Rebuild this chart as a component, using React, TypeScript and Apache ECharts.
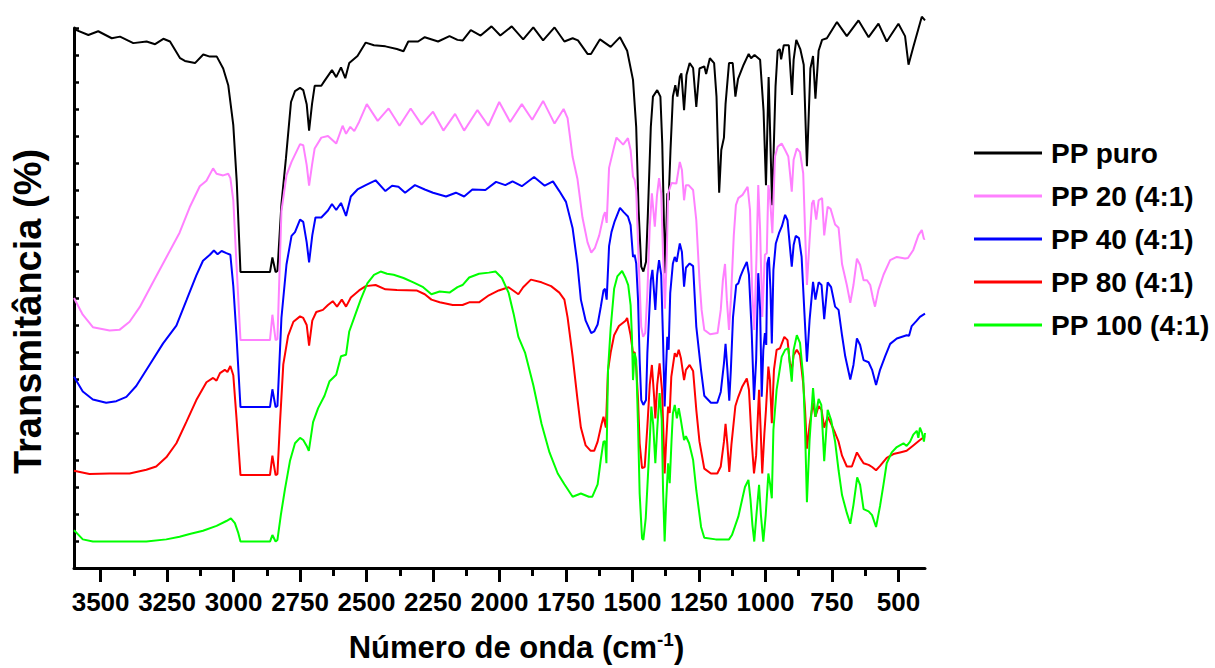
import React, { useEffect, useRef } from "react";
import * as echarts from "echarts";

const seriesNames = ["PP puro", "PP 20 (4:1)", "PP 40 (4:1)", "PP 80 (4:1)", "PP 100 (4:1)"];
const majorTicks = [3500, 3250, 3000, 2750, 2500, 2250, 2000, 1750, 1500, 1250, 1000, 750, 500];
const minorTicks = [3375, 3125, 2875, 2625, 2375, 2125, 1875, 1625, 1375, 1125, 875, 625];

// [wavenumber (cm-1), transmittance (arbitrary offset %)]
const ppPuro: [number, number][] = [
  [3600, 99.8], [3546, 98.7], [3509, 99.4], [3458, 98.1], [3427, 98.4], [3377, 97.2], [3327, 97.5], [3295, 97.0], [3264, 98.0], [3239, 97.5],
  [3201, 94.4], [3183, 93.9], [3145, 93.5], [3114, 95.1], [3089, 94.7], [3063, 94.7], [3039, 92.5], [3020, 89.4], [3001, 82.0], [2988, 71.5],
  [2974, 54.8], [2863, 54.8], [2854, 57.5], [2842, 54.8], [2835, 55.0], [2820, 67.4], [2803, 75.9], [2784, 86.3], [2769, 88.3], [2750, 88.9],
  [2738, 88.5], [2725, 85.9], [2716, 81.0], [2705, 85.9], [2695, 89.3], [2670, 89.3], [2658, 90.2], [2630, 92.2], [2614, 90.9], [2596, 92.7],
  [2580, 90.7], [2565, 93.5], [2534, 94.8], [2503, 97.3], [2472, 96.8], [2429, 96.6], [2386, 96.1], [2361, 95.7], [2343, 97.5], [2306, 97.5],
  [2281, 98.3], [2231, 97.5], [2188, 98.5], [2158, 97.8], [2138, 97.7], [2108, 99.6], [2071, 98.6], [2030, 100.3], [1997, 98.6], [1954, 100.3],
  [1911, 97.9], [1873, 100.1], [1836, 97.7], [1793, 100.1], [1756, 97.5], [1725, 98.1], [1705, 97.7], [1669, 95.2], [1656, 95.2], [1622, 97.9],
  [1582, 96.5], [1547, 98.3], [1520, 95.8], [1498, 90.4], [1486, 81.7], [1477, 66.3], [1467, 55.8], [1459, 54.9], [1449, 56.7], [1442, 65.7],
  [1431, 81.7], [1423, 87.3], [1407, 88.5], [1395, 87.3], [1388, 78.6], [1381, 62.6], [1377, 54.6], [1369, 69.4], [1364, 68.1], [1357, 77.4],
  [1348, 87.3], [1339, 89.4], [1331, 87.3], [1322, 91.0], [1316, 91.6], [1306, 84.8], [1297, 91.3], [1285, 93.5], [1272, 92.6], [1260, 85.4],
  [1248, 92.5], [1230, 92.9], [1223, 91.5], [1209, 94.4], [1193, 93.5], [1184, 87.3], [1174, 69.5], [1166, 77.4], [1156, 79.7], [1150, 85.9],
  [1137, 93.5], [1123, 93.5], [1113, 87.3], [1103, 90.6], [1082, 93.2], [1063, 95.2], [1054, 94.4], [1041, 95.0], [1020, 94.1], [1007, 84.6],
  [998, 70.9], [988, 90.9], [975, 67.2], [962, 89.2], [954, 95.8], [946, 96.1], [941, 94.2], [931, 96.8], [912, 96.8], [900, 87.6],
  [894, 94.1], [884, 97.8], [869, 96.1], [856, 93.2], [844, 74.4], [831, 92.5], [821, 94.8], [812, 86.9], [800, 95.8], [787, 97.8],
  [769, 98.1], [731, 101.1], [694, 98.5], [650, 101.4], [612, 98.3], [575, 100.8], [544, 97.5], [500, 100.8], [475, 98.5], [462, 93.2],
  [444, 96.5], [425, 99.8], [412, 102.1], [400, 101.4],
];

const pp20: [number, number][] = [
  [3600, 50.0], [3567, 46.9], [3529, 44.6], [3466, 44.0], [3429, 44.1], [3391, 45.6], [3353, 48.3], [3303, 52.9], [3253, 57.5], [3203, 62.1],
  [3165, 66.8], [3127, 70.7], [3102, 71.7], [3077, 74.0], [3064, 73.0], [3039, 72.7], [3020, 73.0], [3012, 72.2], [3001, 68.1], [2989, 56.2],
  [2974, 42.2], [2863, 42.2], [2854, 46.9], [2842, 42.2], [2835, 42.4], [2820, 66.1], [2801, 72.7], [2782, 75.2], [2750, 78.5], [2738, 78.3],
  [2725, 74.6], [2716, 70.8], [2705, 74.6], [2695, 77.7], [2670, 79.7], [2645, 80.0], [2614, 78.6], [2590, 81.9], [2577, 80.4], [2561, 81.7],
  [2546, 80.9], [2528, 82.6], [2499, 85.9], [2458, 82.8], [2417, 85.1], [2376, 81.9], [2334, 85.1], [2293, 82.1], [2250, 84.5], [2211, 81.0],
  [2167, 84.1], [2133, 81.0], [2083, 84.8], [2042, 81.9], [2001, 86.3], [1960, 82.6], [1916, 85.9], [1877, 83.0], [1836, 86.5], [1793, 82.3],
  [1759, 85.0], [1744, 83.3], [1725, 76.1], [1707, 72.1], [1688, 64.9], [1669, 60.3], [1655, 58.4], [1641, 59.3], [1625, 61.6], [1609, 65.2],
  [1603, 65.9], [1597, 63.9], [1588, 74.1], [1569, 78.0], [1560, 79.7], [1535, 78.4], [1517, 79.6], [1507, 77.4], [1498, 72.5], [1492, 71.9],
  [1486, 70.0], [1477, 57.0], [1467, 44.7], [1460, 42.8], [1452, 43.5], [1444, 50.9], [1435, 63.2], [1427, 69.4], [1416, 63.2], [1408, 68.9],
  [1400, 72.2], [1392, 69.4], [1385, 58.0], [1378, 48.0], [1371, 58.0], [1366, 69.4], [1353, 71.3], [1335, 71.2], [1322, 75.2], [1314, 73.7],
  [1306, 68.1], [1299, 70.9], [1289, 70.9], [1272, 70.0], [1260, 64.4], [1248, 53.3], [1240, 47.8], [1230, 44.1], [1208, 43.3], [1180, 43.5],
  [1168, 47.8], [1160, 53.3], [1152, 56.3], [1145, 49.6], [1137, 44.1], [1130, 49.6], [1119, 61.6], [1111, 67.2], [1102, 68.5], [1086, 69.1],
  [1067, 70.6], [1058, 66.3], [1050, 51.5], [1042, 44.1], [1034, 57.0], [1027, 70.9], [1020, 62.6], [1012, 46.5], [1002, 58.0], [995, 58.3],
  [989, 70.9], [983, 68.7], [974, 62.0], [964, 76.2], [954, 78.0], [939, 78.6], [926, 77.4], [914, 76.2], [907, 72.8], [901, 69.7],
  [894, 75.6], [882, 77.7], [870, 77.0], [858, 73.1], [851, 62.6], [844, 52.4], [834, 60.7], [825, 67.5], [819, 68.1], [809, 64.5],
  [800, 68.1], [787, 68.5], [779, 61.6], [766, 66.9], [755, 66.5], [738, 63.6], [725, 63.0], [712, 56.3], [694, 52.4], [681, 49.1],
  [669, 52.4], [656, 57.3], [644, 56.1], [631, 53.3], [618, 53.3], [606, 52.4], [596, 50.0], [588, 48.4], [575, 51.5], [556, 54.3],
  [531, 57.0], [506, 57.6], [475, 57.3], [464, 57.4], [444, 58.9], [425, 61.6], [412, 62.6], [404, 60.9], [400, 61.0],
];

const pp40: [number, number][] = [
  [3600, 35.4], [3567, 32.7], [3529, 31.2], [3479, 30.6], [3441, 30.9], [3403, 31.7], [3366, 33.7], [3315, 37.7], [3265, 41.6], [3215, 44.9],
  [3177, 49.6], [3140, 54.2], [3115, 56.9], [3089, 58.0], [3074, 58.8], [3060, 58.1], [3045, 58.7], [3027, 58.3], [3012, 58.0], [3001, 52.2],
  [2989, 43.0], [2974, 29.8], [2863, 29.8], [2854, 33.1], [2842, 29.8], [2835, 30.0], [2820, 46.3], [2801, 56.2], [2782, 61.5], [2769, 62.2],
  [2750, 64.5], [2738, 64.1], [2725, 60.3], [2716, 56.6], [2704, 61.6], [2692, 64.9], [2670, 64.9], [2645, 66.2], [2630, 67.4], [2614, 66.3],
  [2596, 67.6], [2577, 65.2], [2559, 68.8], [2534, 70.1], [2503, 70.9], [2466, 71.8], [2429, 69.8], [2404, 70.8], [2380, 70.6], [2355, 69.5],
  [2318, 70.9], [2281, 70.1], [2250, 69.5], [2201, 68.8], [2164, 69.5], [2133, 68.8], [2102, 70.1], [2053, 70.0], [2013, 71.5], [1978, 70.9],
  [1951, 71.6], [1916, 70.7], [1870, 72.4], [1830, 70.8], [1799, 71.6], [1775, 69.8], [1750, 67.8], [1725, 62.9], [1707, 56.3], [1694, 49.7],
  [1676, 45.8], [1655, 43.5], [1644, 43.8], [1631, 45.1], [1619, 48.4], [1609, 51.4], [1603, 51.7], [1597, 49.7], [1588, 59.6], [1579, 62.2],
  [1567, 64.2], [1547, 66.7], [1533, 65.9], [1517, 65.1], [1507, 63.5], [1498, 57.6], [1492, 58.0], [1486, 56.4], [1479, 49.6], [1473, 38.5],
  [1467, 31.1], [1459, 30.2], [1449, 31.1], [1444, 39.8], [1431, 53.3], [1425, 55.2], [1414, 47.8], [1407, 54.3], [1400, 57.0], [1392, 54.3],
  [1385, 42.2], [1379, 29.9], [1374, 36.7], [1369, 42.8], [1364, 40.4], [1358, 50.9], [1348, 56.4], [1341, 57.6], [1334, 56.7], [1322, 60.1],
  [1314, 58.5], [1306, 52.1], [1299, 55.6], [1285, 56.4], [1272, 55.9], [1260, 44.7], [1242, 36.6], [1230, 31.9], [1205, 30.6], [1181, 30.6],
  [1168, 32.6], [1156, 37.9], [1150, 41.5], [1143, 36.7], [1136, 31.0], [1130, 36.7], [1122, 46.4], [1110, 52.4], [1102, 52.7], [1094, 54.0],
  [1084, 55.2], [1070, 56.7], [1062, 54.3], [1052, 44.1], [1043, 31.1], [1035, 38.5], [1027, 54.6], [1020, 47.8], [1014, 31.7], [1008, 40.4],
  [1002, 43.5], [997, 41.3], [993, 56.4], [987, 57.6], [981, 51.5], [976, 41.6], [970, 55.2], [961, 60.1], [949, 62.0], [938, 63.3],
  [926, 65.4], [917, 64.4], [908, 59.5], [901, 55.8], [894, 59.8], [886, 61.5], [874, 61.1], [864, 57.6], [854, 47.8], [844, 38.2],
  [834, 45.9], [821, 53.0], [812, 49.7], [800, 52.9], [789, 52.4], [779, 46.1], [766, 52.9], [753, 52.0], [738, 48.4], [725, 47.8],
  [712, 43.1], [700, 39.2], [681, 34.9], [669, 37.6], [656, 42.5], [644, 41.3], [631, 38.5], [612, 38.1], [599, 36.7], [584, 33.9],
  [569, 36.7], [550, 39.2], [531, 41.5], [506, 42.5], [469, 43.1], [460, 43.0], [450, 44.8], [431, 45.8], [419, 46.5], [400, 47.1],
];

const pp80: [number, number][] = [
  [3600, 18.0], [3542, 17.4], [3466, 17.5], [3391, 17.5], [3328, 18.2], [3291, 18.8], [3253, 20.5], [3215, 23.1], [3177, 27.1], [3140, 31.1],
  [3102, 34.4], [3077, 35.2], [3064, 34.7], [3051, 36.1], [3033, 36.7], [3023, 36.3], [3012, 37.4], [3001, 35.7], [2989, 27.8], [2974, 17.2],
  [2863, 17.2], [2854, 20.8], [2842, 17.2], [2835, 17.4], [2826, 26.4], [2813, 37.7], [2795, 43.0], [2775, 45.6], [2750, 46.6], [2738, 46.3],
  [2725, 45.0], [2716, 41.2], [2704, 45.8], [2689, 47.4], [2664, 47.8], [2645, 48.7], [2627, 49.4], [2611, 48.4], [2593, 49.7], [2577, 48.4],
  [2559, 50.1], [2528, 51.4], [2503, 52.2], [2466, 52.4], [2429, 51.6], [2386, 51.5], [2312, 51.4], [2281, 50.7], [2256, 49.7], [2225, 49.2],
  [2176, 48.7], [2139, 48.7], [2114, 49.2], [2077, 49.2], [2040, 50.5], [2003, 51.4], [1966, 52.0], [1929, 50.7], [1911, 52.0], [1882, 53.4],
  [1842, 52.9], [1806, 52.2], [1775, 51.0], [1756, 49.7], [1744, 46.4], [1725, 39.2], [1707, 31.3], [1694, 26.0], [1676, 22.7], [1657, 21.7],
  [1644, 21.7], [1631, 23.4], [1616, 26.7], [1609, 28.0], [1600, 26.0], [1592, 36.6], [1582, 39.9], [1569, 43.1], [1551, 44.8], [1526, 45.8],
  [1520, 46.3], [1507, 43.1], [1498, 39.8], [1492, 40.0], [1486, 37.3], [1479, 31.1], [1473, 23.1], [1464, 18.5], [1454, 18.7], [1444, 26.2],
  [1435, 33.9], [1427, 37.6], [1419, 32.0], [1414, 27.7], [1407, 33.9], [1398, 37.9], [1389, 33.0], [1384, 25.6], [1379, 17.5], [1373, 23.7],
  [1366, 29.9], [1360, 28.7], [1354, 35.4], [1341, 39.8], [1334, 39.1], [1326, 40.4], [1318, 38.9], [1306, 34.8], [1299, 36.7], [1285, 37.6],
  [1272, 36.5], [1260, 29.3], [1248, 23.4], [1230, 18.4], [1205, 17.5], [1181, 17.5], [1168, 18.8], [1156, 23.4], [1150, 26.7], [1143, 22.8],
  [1136, 17.8], [1128, 22.8], [1113, 30.0], [1102, 31.7], [1088, 33.5], [1070, 35.1], [1062, 33.0], [1052, 23.7], [1043, 17.5], [1035, 20.9],
  [1024, 33.0], [1018, 25.6], [1012, 17.5], [1004, 24.9], [998, 29.3], [989, 37.3], [983, 34.8], [976, 26.8], [968, 36.7], [958, 40.4],
  [945, 40.7], [929, 42.8], [917, 42.2], [908, 37.9], [901, 36.7], [894, 39.4], [882, 40.4], [870, 39.4], [858, 34.2], [851, 29.3],
  [844, 22.1], [834, 26.5], [821, 30.6], [812, 28.0], [800, 30.0], [789, 29.3], [779, 26.0], [766, 28.0], [753, 26.7], [738, 25.0],
  [725, 23.4], [712, 20.8], [694, 18.8], [675, 18.8], [656, 21.4], [644, 20.4], [631, 19.4], [612, 19.1], [599, 18.7], [584, 18.1],
  [569, 18.9], [544, 20.4], [519, 21.1], [494, 21.4], [469, 21.7], [444, 22.7], [419, 23.7], [400, 24.4],
];

const pp100: [number, number][] = [
  [3600, 7.0], [3592, 6.6], [3567, 5.3], [3529, 4.9], [3429, 4.9], [3328, 4.9], [3253, 5.3], [3203, 5.8], [3165, 6.3], [3115, 6.9],
  [3064, 7.8], [3027, 8.7], [3010, 9.2], [2995, 8.3], [2983, 6.6], [2974, 4.9], [2863, 4.9], [2854, 6.1], [2842, 4.9], [2835, 5.2],
  [2822, 9.9], [2807, 14.5], [2788, 19.8], [2769, 23.1], [2750, 24.1], [2738, 23.7], [2725, 22.6], [2717, 21.7], [2701, 27.0], [2682, 29.6],
  [2658, 31.9], [2639, 34.6], [2614, 35.8], [2596, 39.2], [2577, 39.5], [2565, 43.8], [2546, 46.4], [2522, 49.7], [2497, 52.7], [2472, 54.3],
  [2447, 54.9], [2423, 54.5], [2398, 54.3], [2361, 53.7], [2324, 52.9], [2287, 52.0], [2256, 50.7], [2225, 51.2], [2188, 51.0], [2158, 52.0],
  [2139, 52.4], [2114, 53.8], [2077, 54.5], [2040, 54.7], [2015, 54.9], [1991, 53.7], [1966, 51.0], [1947, 47.1], [1929, 42.8], [1904, 39.9],
  [1873, 33.9], [1842, 26.7], [1812, 21.4], [1781, 17.5], [1756, 15.5], [1725, 13.2], [1694, 13.8], [1664, 13.2], [1651, 13.2], [1631, 15.5],
  [1619, 20.1], [1609, 23.4], [1603, 23.5], [1598, 19.4], [1592, 36.6], [1582, 44.4], [1569, 51.7], [1557, 54.0], [1539, 55.0], [1526, 53.7],
  [1516, 52.4], [1507, 48.7], [1502, 42.8], [1498, 34.8], [1492, 39.8], [1486, 38.5], [1479, 26.2], [1473, 13.8], [1464, 5.5], [1459, 5.2],
  [1450, 9.3], [1442, 16.9], [1435, 23.7], [1429, 29.9], [1422, 26.5], [1414, 19.4], [1407, 25.6], [1398, 32.4], [1390, 27.4], [1385, 14.4],
  [1379, 4.9], [1373, 12.6], [1366, 19.4], [1360, 15.7], [1353, 23.7], [1348, 28.6], [1341, 30.2], [1333, 27.7], [1326, 29.6], [1318, 27.4],
  [1306, 23.7], [1299, 24.4], [1287, 23.1], [1272, 20.0], [1260, 14.4], [1247, 9.5], [1242, 7.6], [1230, 5.6], [1187, 5.3], [1137, 5.3],
  [1126, 6.1], [1114, 7.8], [1102, 9.5], [1088, 12.6], [1077, 15.0], [1064, 16.3], [1056, 12.6], [1049, 8.0], [1042, 4.9], [1034, 9.8],
  [1024, 15.4], [1017, 9.8], [1008, 4.9], [999, 9.8], [989, 17.5], [983, 15.7], [976, 12.9], [970, 25.6], [958, 33.0], [939, 39.1],
  [926, 40.4], [914, 40.7], [908, 37.6], [901, 34.5], [894, 40.4], [882, 43.1], [870, 41.7], [858, 35.4], [851, 25.6], [844, 12.2],
  [834, 23.7], [821, 33.3], [812, 28.0], [800, 31.3], [790, 30.2], [779, 19.8], [766, 29.3], [753, 27.4], [738, 23.4], [725, 18.1],
  [712, 13.5], [694, 10.2], [681, 8.2], [669, 11.7], [655, 16.8], [644, 15.4], [631, 10.9], [612, 10.5], [599, 9.8], [584, 7.6],
  [569, 11.5], [556, 15.5], [544, 19.4], [525, 21.4], [506, 22.4], [481, 23.1], [469, 22.6], [456, 23.4], [444, 24.7], [431, 25.4],
  [425, 24.1], [419, 26.0], [411, 25.0], [404, 23.4], [400, 25.0],
];

const lineColors = ["#000000", "#ff80ff", "#0000ff", "#ff0000", "#00ff00"];
const SANS = "'Liberation Sans', Arial, Helvetica, sans-serif";

export default function App() {
  const ref = useRef<HTMLDivElement>(null);
  useEffect(() => {
    if (!ref.current) return;
    const chart = echarts.init(ref.current, null, { renderer: "svg" });
    const allData = [ppPuro, pp20, pp40, pp80, pp100];
    chart.setOption({
      animation: false,
      backgroundColor: "#ffffff",
      grid: { left: 74, right: 290, top: 28, bottom: 100 },
      legend: {
        orient: "vertical",
        left: 969,
        top: 131,
        icon: "rect",
        itemWidth: 68,
        itemHeight: 3,
        itemGap: 9,
        selectedMode: false,
        data: seriesNames,
        textStyle: {
          fontFamily: SANS,
          fontWeight: "bold",
          fontSize: 28,
          lineHeight: 34,
          color: "#000",
          padding: [0, 0, 0, 4],
        },
      },
      xAxis: [
        {
          type: "value",
          min: 400,
          max: 3600,
          inverse: true,
          position: "bottom",
          axisLine: { show: true, onZero: false, lineStyle: { color: "#000", width: 3 } },
          axisTick: { show: true, customValues: majorTicks, length: 14, lineStyle: { color: "#000", width: 3 } },
          axisLabel: {
            show: true,
            customValues: majorTicks,
            formatter: (v: number) => String(v),
            margin: 21,
            fontFamily: SANS,
            fontWeight: "bold",
            fontSize: 26,
            color: "#000",
          },
          splitLine: { show: false },
          name: "{a|Número de onda (cm}{s|-1}{a|)}",
          nameLocation: "middle",
          nameGap: 62,
          nameTextStyle: {
            padding: [0, 0, 0, 34],
            rich: {
              a: { fontFamily: SANS, fontWeight: "bold", fontSize: 31, color: "#000", lineHeight: 34 },
              s: { fontFamily: SANS, fontWeight: "bold", fontSize: 19, color: "#000", verticalAlign: "top", lineHeight: 20 },
            },
          },
        },
        {
          type: "value",
          min: 400,
          max: 3600,
          inverse: true,
          position: "bottom",
          axisLine: { show: false },
          axisTick: { show: true, customValues: minorTicks, length: 8, lineStyle: { color: "#000", width: 3 } },
          axisLabel: { show: false },
          splitLine: { show: false },
        },
      ],
      yAxis: {
        type: "value",
        min: 0,
        max: 100,
        interval: 5,
        axisLine: { show: true, onZero: false, lineStyle: { color: "#000", width: 3 } },
        axisTick: { show: true, inside: true, length: 5, lineStyle: { color: "#000", width: 2.5 } },
        axisLabel: { show: false },
        splitLine: { show: false },
        name: "Transmitância (%)",
        nameLocation: "middle",
        nameGap: 27,
        nameTextStyle: {
          fontFamily: SANS,
          fontWeight: "bold",
          fontSize: 38,
          color: "#000",
          padding: [0, 27, 0, 0],
        },
      },
      series: allData.map((d, i) => ({
        name: seriesNames[i],
        type: "line",
        xAxisIndex: 0,
        data: d,
        symbol: "none",
        showSymbol: false,
        clip: false,
        silent: true,
        lineStyle: { color: lineColors[i], width: 2 },
        itemStyle: { color: lineColors[i] },
      })),
    });
    return () => chart.dispose();
  }, []);
  return <div ref={ref} style={{ position: "fixed", left: 0, top: 0, width: 1215, height: 668 }} />;
}
